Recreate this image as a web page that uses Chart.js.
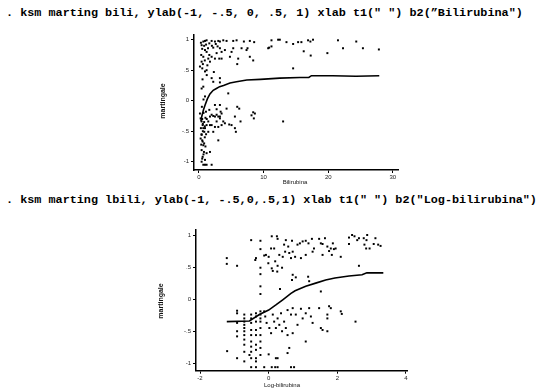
<!DOCTYPE html>
<html>
<head>
<meta charset="utf-8">
<script src="https://cdn.jsdelivr.net/npm/chart.js@4.4.0/dist/chart.umd.min.js"></script>
<style>
  html, body { margin: 0; padding: 0; background: #fff; overflow: hidden; }
  body { width: 539px; height: 388px; position: relative; }
  .cmd { position: absolute; left: 6px; font: bold 11.8px "Liberation Mono", "Courier New", monospace; line-height: 11.8px; white-space: pre; color: #000; }
  .axt { position: absolute; font: 6px "Liberation Sans", Arial, sans-serif; line-height: 7px; white-space: pre; color: #111; transform: translate(-50%, -50%); }
  .axt.rot { font-size: 7px; font-weight: bold; transform: translate(-50%, -50%) rotate(-90deg); }
  canvas { position: absolute; }
</style>
</head>
<body>
<div class="cmd" style="top:8px">. ksm marting bili, ylab(-1, -.5, 0, .5, 1) xlab t1(" ") b2(”Bilirubina")</div>
<div class="cmd" style="top:195px">. ksm marting lbili, ylab(-1, -.5,0,.5,1) xlab t1(" ") b2("Log-bilirubina")</div>

<canvas id="chartBili" width="270" height="165" style="left:140px;top:28px"></canvas>
<canvas id="chartLbili" width="280" height="170" style="left:140px;top:222px"></canvas>

<div class="axt rot" style="left:162px;top:101px">martingale</div>
<div class="axt" style="left:295px;top:182px">Bilirubina</div>
<div class="axt rot" style="left:160px;top:301px">martingale</div>
<div class="axt" style="left:282px;top:385px">Log-bilirubina</div>

<script>
// Data
const yTickValues = [-1, -0.5, 0, 0.5, 1];
const yTickLabels = ["-1", "-.5", "0", ".5", "1"];
const biliTickValues = [0, 10, 20, 30];
const biliTickLabels = ["0", "10", "20", "30"];
const lbiliTickValues = [-2, 0, 2, 4];
const lbiliTickLabels = ["-2", "0", "2", "4"];

const biliValues = [
  0.41, 0.67, 0.93, 1.18, 1.60, 1.96, 2.47, 2.99, 3.24, 3.76, 4.27, 5.30, 5.82, 6.95, 7.87, 8.54,
  11.22, 12.25, 12.51, 13.54, 14.57, 15.34, 15.85, 16.88, 17.24, 17.65, 21.51, 22.29, 24.34, 25.37,
  27.84, 19.87, 16.21, 17.29, 11.22, 10.71, 10.86, 8.39, 7.87, 6.07, 5.92, 4.79, 5.04, 4.01, 3.50,
  3.24, 2.73, 2.47, 1.96, 1.60, 1.18, 0.93, 0.67, 0.41, 0.15, 0.51, 0.93, 1.18, 1.44, 1.70, 2.21,
  2.88, 3.14, 3.50, 5.30, 6.59, 7.51, 7.36, 14.57,
  0.30, 0.50, 0.80, 1.10, 1.40, 0.60, 0.90, 1.30, 0.35, 2.00, 2.60, 1.20, 0.55, 2.30, 0.70, 0.45,
  1.96, 2.21, 3.24, 3.24, 0.41, 0.67, 0.93, 4.53,
  0.15, 0.26, 0.41, 0.57, 0.67, 0.82, 0.41, 0.26, 0.57, 0.67, 0.41, 0.77, 0.57, 0.41, 0.67, 0.93,
  1.18, 1.96, 0.93, 1.70, 1.18, 1.44, 1.70, 1.96, 2.21, 2.47, 2.73, 2.99, 3.24, 3.35, 3.50, 3.24,
  2.73, 2.47, 2.99, 3.50, 3.76, 4.01, 1.44, 1.18, 0.93, 2.21, 1.96, 1.70, 1.08, 1.60, 2.47, 2.73,
  3.24, 4.27, 5.92, 6.23, 5.56, 6.43, 5.04, 4.68, 5.56, 5.71, 2.99, 8.39, 8.65, 8.13, 8.49, 13.02,
  0.50, 0.80, 1.00, 0.60, 0.90, 0.30, 0.70, 1.10, 0.50, 0.80, 0.40, 1.20, 0.60, 0.90, 0.35, 0.70,
  0.50, 1.00
];
const biliMartingale = [
  0.91, 0.97, 0.98, 0.99, 0.94, 0.98, 0.97, 0.98, 0.97, 0.99, 0.98, 0.98, 0.99, 0.97, 0.98, 0.96,
  0.99, 1.00, 1.00, 0.96, 0.93, 0.96, 0.96, 0.99, 0.97, 1.00, 0.99, 0.86, 0.97, 0.86,
  0.84, 0.78, 0.81, 0.74, 0.89, 0.86, 0.87, 0.66, 0.72, 0.69, 0.60, 0.72, 0.80, 0.83, 0.80,
  0.86, 0.78, 0.69, 0.72, 0.75, 0.80, 0.83, 0.72, 0.64, 0.56, 0.53, 0.48, 0.50, 0.69, 0.64, 0.87,
  0.89, 0.69, 0.69, 0.86, 0.86, 0.86, 0.83, 0.53,
  0.95, 0.85, 0.90, 0.92, 0.86, 0.60, 0.66, 0.58, 0.75, 0.90, 0.93, 0.42, 0.35, 0.47, 0.02, -0.10,
  0.37, 0.31, 0.37, 0.30, 0.20, 0.23, 0.07, 0.12,
  -0.21, -0.29, -0.34, -0.40, -0.45, -0.51, -0.56, -0.62, -0.67, -0.73, -0.81, -0.84, -0.92, -1.00, -1.05, -1.05,
  -1.05, -1.05, -0.97, -0.84, -0.86, -0.34, -0.26, -0.23, -0.25, -0.26, -0.23, -0.26, -0.26, -0.18, -0.21, -0.29,
  -0.34, -0.43, -0.43, -0.40, -0.34, -0.37, -0.51, -0.40, -0.45, -0.51, -0.40, -0.40, -0.18, -0.15, -0.07, -0.14,
  -0.07, -0.13, -0.10, -0.13, -0.26, -0.34, -0.40, -0.39, -0.45, -0.51, -0.65, -0.19, -0.21, -0.24, -0.29, -0.34,
  -0.30, -0.35, -0.28, -0.50, -0.60, -0.45, -0.20, -0.55, -0.65, -0.70, -0.55, -0.30, -0.38, -0.42, -0.72, -0.88,
  -0.95, -0.75
];
const biliSmoothX = [0.3, 0.45, 0.7, 0.95, 1.3, 1.7, 2.2, 2.7, 3.2, 3.8, 4.8, 5.8, 7.4, 9.5, 12.5, 15.6, 17.0, 17.4, 20.7, 24.3, 27.9];
const biliSmoothY = [-0.34, -0.25, -0.15, -0.07, 0.03, 0.11, 0.17, 0.2, 0.23, 0.25, 0.29, 0.31, 0.34, 0.35, 0.37, 0.38, 0.38, 0.41, 0.41, 0.4, 0.41];

const lbiliValues = [
  -0.51, -0.24, -0.24, -0.37, -0.39, -0.24, -0.24, -0.24, -0.24, -1.22, -1.22, -0.92, 0.09, 0.24, 0.26, 0.07,
  -0.13, 0.00, 0.19, -0.01, 0.09, 0.12, 0.25, 0.26, 0.39, -0.08, 0.45, 0.50, 0.57, 0.68, 0.70, 0.84,
  0.91, 0.99, 1.08, 1.16, 1.26, 1.32, 1.47, 1.52, 1.57, 1.64, 1.71, 1.81, 1.87, 1.76, 1.84, 1.90,
  1.95, 2.10, 2.34, 2.43, 2.50, 2.58, 2.63, 2.77, 2.87, 2.85, 2.79, 2.94, 3.06, 3.11, 3.19, 3.26,
  2.84, 2.34, 1.57, 1.28, 1.08, 0.94, 0.77, 0.65, 0.60, 0.48, 0.41, 0.31, 0.16,
  0.70, 0.79, 0.68, 1.15, 1.18, 1.52, 2.63, 0.33,
  -0.92, -0.92, -0.92, -0.92, -0.92, -0.71, -0.71, -0.71, -0.71, -0.71, -0.71, -0.71, -0.71, -0.71, -0.71, -0.71,
  -0.51, -0.51, -0.51, -0.51, -0.51, -0.51, -0.51, -0.51, -0.51, -0.51, -0.37, -0.37, -0.37, -0.37, -0.37, -0.37,
  -0.37, -0.37, -0.37, -0.37, -0.24, -0.24, -0.24, -0.24, -0.24, -0.24, -0.24, -0.24, -0.24, -0.13, -0.10, -0.06,
  0.02, 0.07, 0.12, 0.16, 0.21, 0.26, 0.31, 0.36, 0.39, 0.45, 0.50, 0.55, 0.55, 0.60, 0.65, 0.70,
  0.70, 0.79, 0.84, 0.94, 0.99, 1.08, 1.08, 1.18, 1.23, 1.28, 1.47, 1.52, 1.57, 1.71, 1.71, 1.71,
  1.76, 1.81, 2.10, 2.13, 2.53,
  -0.13, 0.09, 0.19, 0.26, 0.65, 0.74, 0.21, 0.26, 0.55, -1.21, 0.00, -0.92, -0.56
];
const lbiliMartingale = [
  0.92, 0.91, 0.78, 0.64, 0.61, 0.49, 0.39, 0.20, 0.08, 0.64, 0.55, 0.52, 0.98, 0.98, 0.94, 0.79,
  0.68, 0.66, 0.59, 0.56, 0.48, 0.44, 0.43, 0.52, 0.49, 0.69, 0.85, 0.92, 0.82, 0.91, 0.74, 0.85,
  0.87, 0.90, 0.91, 0.87, 0.94, 0.79, 0.94, 0.87, 0.86, 0.95, 0.82, 0.79, 0.87, 0.75, 0.69, 0.78,
  0.79, 0.66, 0.96, 1.00, 0.98, 0.92, 0.95, 0.95, 1.00, 0.92, 0.85, 0.79, 0.86, 0.95, 0.85, 0.83,
  0.79, 0.86, 0.69, 0.74, 0.69, 0.64, 0.66, 0.64, 0.72, 0.74, 0.66, 0.69, 0.79,
  0.38, 0.34, 0.30, 0.35, 0.28, 0.12, 0.52, 0.16,
  -0.18, -0.22, -0.37, -0.50, -0.58, -0.24, -0.30, -0.35, -0.40, -0.45, -0.50, -0.56, -0.63, -0.71, -0.82, -0.97,
  -0.24, -0.30, -0.37, -0.48, -0.56, -0.66, -0.74, -0.82, -0.92, -1.06, -0.22, -0.27, -0.35, -0.48, -0.56, -0.71,
  -0.79, -0.92, -0.97, -1.06, -0.19, -0.24, -0.30, -0.35, -0.45, -0.56, -0.66, -0.76, -0.87, -0.19, -0.27, -0.37,
  -0.45, -0.53, -0.24, -0.35, -0.45, -0.30, -0.40, -0.22, -0.50, -0.35, -0.45, -0.17, -0.56, -0.76, -0.24, -0.14,
  -0.53, -0.24, -0.40, -0.15, -0.30, -0.22, -0.66, -0.14, -0.27, -0.37, -0.14, -0.45, -0.48, -0.24, -0.30, -0.50,
  -0.11, -0.14, -0.19, -0.23, -0.35,
  -1.06, -1.06, -1.06, -1.06, -1.06, -1.06, -0.92, -0.92, -0.84, -0.81, -0.86, -0.92, -0.87
];
const lbiliSmoothX = [-1.22, -0.56, -0.27, 0, 0.21, 0.41, 0.65, 0.77, 1.08, 1.37, 1.66, 1.93, 2.34, 2.72, 2.86, 3.34];
const lbiliSmoothY = [-0.35, -0.34, -0.24, -0.17, -0.09, -0.01, 0.09, 0.13, 0.2, 0.25, 0.3, 0.33, 0.36, 0.38, 0.41, 0.41];

function tickLabel(values, labels) {
  return (v) => {
    const i = values.indexOf(v);
    return i < 0 ? "" : labels[i];
  };
}

function axisStyle() {
  return {
    grid: { display: true, drawOnChartArea: false, drawTicks: true, tickLength: 3, color: "#000", lineWidth: 1 },
    border: { display: true, color: "#000", width: 1.5 },
  };
}

function createChart(canvasId, cfg) {
  const points = cfg.xs.map((x, i) => ({ x: x, y: cfg.ys[i] }));
  const smooth = cfg.smoothX.map((x, i) => ({ x: x, y: cfg.smoothY[i] }));
  const tickFont = { size: 6, family: "Liberation Sans" };

  return new Chart(document.getElementById(canvasId), {
    type: "scatter",
    data: {
      datasets: [
        { type: "line", data: smooth, borderColor: "#000", borderWidth: 1.6, pointRadius: 0, fill: false, tension: 0, order: 0 },
        { data: points, backgroundColor: "#000", borderWidth: 0, pointStyle: "rect", pointRadius: 1.4, order: 1, clip: false },
      ],
    },
    options: {
      responsive: false,
      animation: false,
      devicePixelRatio: 1,
      layout: { padding: { top: cfg.padTop, right: cfg.padRight, left: 0, bottom: 0 } },
      plugins: { legend: { display: false }, tooltip: { enabled: false } },
      scales: {
        x: {
          type: "linear",
          min: cfg.xMin,
          max: cfg.xMax,
          afterBuildTicks: (s) => { s.ticks = cfg.xTicks.map((v) => ({ value: v })); },
          afterFit: (s) => { s.height = cfg.xAxisHeight; },
          ticks: { autoSkip: false, maxRotation: 0, padding: 1, color: "#222", font: tickFont, callback: tickLabel(cfg.xTicks, cfg.xLabels) },
          ...axisStyle(),
        },
        y: {
          type: "linear",
          min: cfg.yMin,
          max: cfg.yMax,
          afterBuildTicks: (s) => { s.ticks = yTickValues.map((v) => ({ value: v })); },
          afterFit: (s) => { s.width = cfg.yAxisWidth; },
          ticks: { autoSkip: false, padding: 2, color: "#222", font: tickFont, callback: tickLabel(yTickValues, yTickLabels) },
          ...axisStyle(),
        },
      },
    },
  });
}

function main() {
  createChart("chartBili", {
    xs: biliValues, ys: biliMartingale, smoothX: biliSmoothX, smoothY: biliSmoothY,
    xTicks: biliTickValues, xLabels: biliTickLabels,
    xMin: -0.77, xMax: 30.8, yMin: -1.136, yMax: 1.077,
    padTop: 7, padRight: 12, xAxisHeight: 23, yAxisWidth: 54,
  });
  createChart("chartLbili", {
    xs: lbiliValues, ys: lbiliMartingale, smoothX: lbiliSmoothX, smoothY: lbiliSmoothY,
    xTicks: lbiliTickValues, xLabels: lbiliTickLabels,
    xMin: -2.117, xMax: 4.03, yMin: -1.115, yMax: 1.078,
    padTop: 8, padRight: 13, xAxisHeight: 21.3, yAxisWidth: 56,
  });
}

main();
</script>
</body>
</html>
